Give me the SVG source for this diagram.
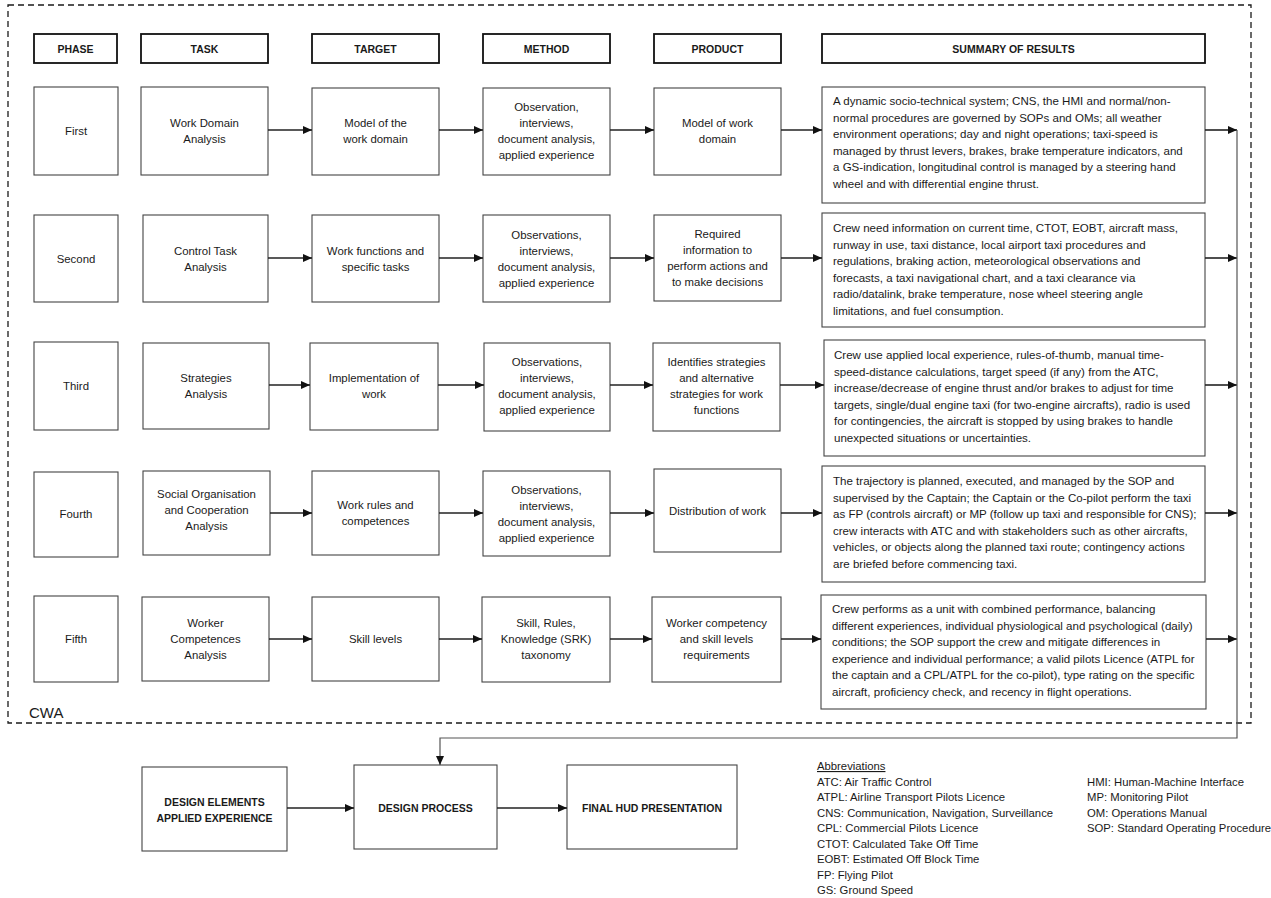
<svg xmlns="http://www.w3.org/2000/svg" width="1271" height="898" viewBox="0 0 1271 898">
<style>
.bg{fill:#fff}
.frame{fill:none;stroke:#1a1a1a;stroke-width:1.3;stroke-dasharray:6 4}
.hdr{fill:#fff;stroke:#111;stroke-width:1.8}
.box{fill:#fff;stroke:#444;stroke-width:1.1}
.ht{font-family:"Liberation Sans",Arial,sans-serif;font-size:10.5px;font-weight:bold;fill:#1a1a1a;text-anchor:middle}
.t{font-family:"Liberation Sans",Arial,sans-serif;font-size:11.4px;fill:#1a1a1a;text-anchor:middle}
.s{font-family:"Liberation Sans",Arial,sans-serif;font-size:11.55px;fill:#1a1a1a}
.bt{font-family:"Liberation Sans",Arial,sans-serif;font-size:10.5px;font-weight:bold;fill:#1a1a1a;text-anchor:middle}
.ab{font-family:"Liberation Sans",Arial,sans-serif;font-size:11.3px;fill:#1a1a1a}
.cwa{font-family:"Liberation Sans",Arial,sans-serif;font-size:15px;fill:#1a1a1a}
.c{fill:none;stroke:#222;stroke-width:1.6}
.fb{fill:none;stroke:#555;stroke-width:1.2}
</style>
<defs>
<marker id="ah" markerUnits="userSpaceOnUse" markerWidth="10" markerHeight="10" refX="9" refY="5" orient="auto">
<path d="M0,1 L9,5 L0,9 z" fill="#111"/>
</marker>
</defs>
<rect class="bg" x="0" y="0" width="1271" height="898"/>
<rect class="frame" x="8" y="5" width="1243" height="718"/>
<text class="cwa" x="29" y="718">CWA</text>

<g id="headers">
<g id="h-phase"><rect class="hdr" x="34" y="34" width="83" height="29"/><text class="ht" x="75.5" y="52.5">PHASE</text></g>
<g id="h-task"><rect class="hdr" x="141" y="34" width="127" height="29"/><text class="ht" x="204.5" y="52.5">TASK</text></g>
<g id="h-target"><rect class="hdr" x="312" y="34" width="127" height="29"/><text class="ht" x="375.5" y="52.5">TARGET</text></g>
<g id="h-method"><rect class="hdr" x="483" y="34" width="127" height="29"/><text class="ht" x="546.5" y="52.5">METHOD</text></g>
<g id="h-product"><rect class="hdr" x="654" y="34" width="127" height="29"/><text class="ht" x="717.5" y="52.5">PRODUCT</text></g>
<g id="h-summary"><rect class="hdr" x="822" y="34" width="383" height="29"/><text class="ht" x="1013.5" y="52.5">SUMMARY OF RESULTS</text></g>
</g>

<!-- Row 1 -->
<g id="p1"><rect class="box" x="34" y="87" width="84" height="88"/><text class="t" x="76" y="135">First</text></g>
<g id="task1"><rect class="box" x="141" y="87" width="127" height="88"/><text class="t" x="204.5" y="127">Work Domain</text><text class="t" x="204.5" y="143">Analysis</text></g>
<g id="target1"><rect class="box" x="312" y="88" width="127" height="87"/><text class="t" x="375.5" y="127">Model of the</text><text class="t" x="375.5" y="143">work domain</text></g>
<g id="method1"><rect class="box" x="483" y="88" width="127" height="87"/><text class="t" x="546.5" y="111">Observation,</text><text class="t" x="546.5" y="127">interviews,</text><text class="t" x="546.5" y="143">document analysis,</text><text class="t" x="546.5" y="159">applied experience</text></g>
<g id="product1"><rect class="box" x="654" y="88" width="127" height="87"/><text class="t" x="717.5" y="127">Model of work</text><text class="t" x="717.5" y="143">domain</text></g>
<g id="summary1"><rect class="box" x="822" y="87" width="383" height="116"/>
<text class="s" x="833" y="105">A dynamic socio-technical system; CNS, the HMI and normal/non-</text>
<text class="s" x="833" y="121.6">normal procedures are governed by SOPs and OMs; all weather</text>
<text class="s" x="833" y="138.2">environment operations; day and night operations; taxi-speed is</text>
<text class="s" x="833" y="154.8">managed by thrust levers, brakes, brake temperature indicators, and</text>
<text class="s" x="833" y="171.4">a GS-indication, longitudinal control is managed by a steering hand</text>
<text class="s" x="833" y="188">wheel and with differential engine thrust.</text></g>

<!-- Row 2 -->
<g id="p2"><rect class="box" x="34" y="215" width="84" height="87"/><text class="t" x="76" y="262.5">Second</text></g>
<g id="task2"><rect class="box" x="143" y="215" width="125" height="87"/><text class="t" x="205.5" y="254.5">Control Task</text><text class="t" x="205.5" y="270.5">Analysis</text></g>
<g id="target2"><rect class="box" x="312" y="215" width="127" height="87"/><text class="t" x="375.5" y="254.5">Work functions and</text><text class="t" x="375.5" y="270.5">specific tasks</text></g>
<g id="method2"><rect class="box" x="483" y="215" width="127" height="87"/><text class="t" x="546.5" y="238.5">Observations,</text><text class="t" x="546.5" y="254.5">interviews,</text><text class="t" x="546.5" y="270.5">document analysis,</text><text class="t" x="546.5" y="286.5">applied experience</text></g>
<g id="product2"><rect class="box" x="654" y="215" width="127" height="86"/><text class="t" x="717.5" y="238">Required</text><text class="t" x="717.5" y="254">information to</text><text class="t" x="717.5" y="270">perform actions and</text><text class="t" x="717.5" y="286">to make decisions</text></g>
<g id="summary2"><rect class="box" x="822" y="213" width="383" height="114"/>
<text class="s" x="833" y="232">Crew need information on current time, CTOT, EOBT, aircraft mass,</text>
<text class="s" x="833" y="248.6">runway in use, taxi distance, local airport taxi procedures and</text>
<text class="s" x="833" y="265.2">regulations, braking action, meteorological observations and</text>
<text class="s" x="833" y="281.8">forecasts, a taxi navigational chart, and a taxi clearance via</text>
<text class="s" x="833" y="298.4">radio/datalink, brake temperature, nose wheel steering angle</text>
<text class="s" x="833" y="315">limitations, and fuel consumption.</text></g>

<!-- Row 3 -->
<g id="p3"><rect class="box" x="34" y="342" width="84" height="88"/><text class="t" x="76" y="390">Third</text></g>
<g id="task3"><rect class="box" x="143" y="343" width="126" height="86"/><text class="t" x="206" y="382">Strategies</text><text class="t" x="206" y="398">Analysis</text></g>
<g id="target3"><rect class="box" x="310" y="343" width="128" height="87"/><text class="t" x="374" y="382">Implementation of</text><text class="t" x="374" y="398">work</text></g>
<g id="method3"><rect class="box" x="484" y="343" width="126" height="88"/><text class="t" x="547" y="366">Observations,</text><text class="t" x="547" y="382">interviews,</text><text class="t" x="547" y="398">document analysis,</text><text class="t" x="547" y="414">applied experience</text></g>
<g id="product3"><rect class="box" x="653" y="343" width="127" height="88"/><text class="t" x="716.5" y="366">Identifies strategies</text><text class="t" x="716.5" y="382">and alternative</text><text class="t" x="716.5" y="398">strategies for work</text><text class="t" x="716.5" y="414">functions</text></g>
<g id="summary3"><rect class="box" x="824" y="340" width="381" height="116"/>
<text class="s" x="834" y="359">Crew use applied local experience, rules-of-thumb, manual time-</text>
<text class="s" x="834" y="375.6">speed-distance calculations, target speed (if any) from the ATC,</text>
<text class="s" x="834" y="392.2">increase/decrease of engine thrust and/or brakes to adjust for time</text>
<text class="s" x="834" y="408.8">targets, single/dual engine taxi (for two-engine aircrafts), radio is used</text>
<text class="s" x="834" y="425.4">for contingencies, the aircraft is stopped by using brakes to handle</text>
<text class="s" x="834" y="442">unexpected situations or uncertainties.</text></g>

<!-- Row 4 -->
<g id="p4"><rect class="box" x="34" y="472" width="84" height="85"/><text class="t" x="76" y="518">Fourth</text></g>
<g id="task4"><rect class="box" x="143" y="471" width="127" height="84"/><text class="t" x="206.5" y="498">Social Organisation</text><text class="t" x="206.5" y="514">and Cooperation</text><text class="t" x="206.5" y="530">Analysis</text></g>
<g id="target4"><rect class="box" x="312" y="471" width="127" height="84"/><text class="t" x="375.5" y="509">Work rules and</text><text class="t" x="375.5" y="525">competences</text></g>
<g id="method4"><rect class="box" x="483" y="471" width="127" height="85"/><text class="t" x="546.5" y="494">Observations,</text><text class="t" x="546.5" y="510">interviews,</text><text class="t" x="546.5" y="526">document analysis,</text><text class="t" x="546.5" y="542">applied experience</text></g>
<g id="product4"><rect class="box" x="654" y="469" width="127" height="83"/><text class="t" x="717.5" y="515">Distribution of work</text></g>
<g id="summary4"><rect class="box" x="822" y="466" width="383" height="116"/>
<text class="s" x="833" y="485">The trajectory is planned, executed, and managed by the SOP and</text>
<text class="s" x="833" y="501.6">supervised by the Captain; the Captain or the Co-pilot perform the taxi</text>
<text class="s" x="833" y="518.2">as FP (controls aircraft) or MP (follow up taxi and responsible for CNS);</text>
<text class="s" x="833" y="534.8">crew interacts with ATC and with stakeholders such as other aircrafts,</text>
<text class="s" x="833" y="551.4">vehicles, or objects along the planned taxi route; contingency actions</text>
<text class="s" x="833" y="568">are briefed before commencing taxi.</text></g>

<!-- Row 5 -->
<g id="p5"><rect class="box" x="34" y="596" width="84" height="86"/><text class="t" x="76" y="643">Fifth</text></g>
<g id="task5"><rect class="box" x="142" y="597" width="127" height="84"/><text class="t" x="205.5" y="627">Worker</text><text class="t" x="205.5" y="643">Competences</text><text class="t" x="205.5" y="659">Analysis</text></g>
<g id="target5"><rect class="box" x="312" y="597" width="127" height="84"/><text class="t" x="375.5" y="643">Skill levels</text></g>
<g id="method5"><rect class="box" x="482" y="597" width="128" height="85"/><text class="t" x="546" y="627">Skill, Rules,</text><text class="t" x="546" y="643">Knowledge (SRK)</text><text class="t" x="546" y="659">taxonomy</text></g>
<g id="product5"><rect class="box" x="652" y="597" width="129" height="85"/><text class="t" x="716.5" y="627">Worker competency</text><text class="t" x="716.5" y="643">and skill levels</text><text class="t" x="716.5" y="659">requirements</text></g>
<g id="summary5"><rect class="box" x="821" y="595" width="385" height="114"/>
<text class="s" x="832" y="613">Crew performs as a unit with combined performance, balancing</text>
<text class="s" x="832" y="629.6">different experiences, individual physiological and psychological (daily)</text>
<text class="s" x="832" y="646.2">conditions; the SOP support the crew and mitigate differences in</text>
<text class="s" x="832" y="662.8">experience and individual performance; a valid pilots Licence (ATPL for</text>
<text class="s" x="832" y="679.4">the captain and a CPL/ATPL for the co-pilot), type rating on the specific</text>
<text class="s" x="832" y="696">aircraft, proficiency check, and recency in flight operations.</text></g>

<!-- Bottom -->
<g id="design-elements"><rect class="box" x="142" y="767" width="145" height="84"/><text class="bt" x="214.5" y="806">DESIGN ELEMENTS</text><text class="bt" x="214.5" y="822">APPLIED EXPERIENCE</text></g>
<g id="design-process"><rect class="box" x="354" y="765" width="143" height="84"/><text class="bt" x="425.5" y="812">DESIGN PROCESS</text></g>
<g id="final-hud"><rect class="box" x="567" y="765" width="170" height="84"/><text class="bt" x="652" y="812">FINAL HUD PRESENTATION</text></g>

<g id="abbreviations">
<text class="ab" x="817" y="770" text-decoration="underline">Abbreviations</text>
<text class="ab" x="817" y="785.5">ATC: Air Traffic Control</text>
<text class="ab" x="817" y="801">ATPL: Airline Transport Pilots Licence</text>
<text class="ab" x="817" y="816.5">CNS: Communication, Navigation, Surveillance</text>
<text class="ab" x="817" y="832">CPL: Commercial Pilots Licence</text>
<text class="ab" x="817" y="847.5">CTOT: Calculated Take Off Time</text>
<text class="ab" x="817" y="863">EOBT: Estimated Off Block Time</text>
<text class="ab" x="817" y="878.5">FP: Flying Pilot</text>
<text class="ab" x="817" y="894">GS: Ground Speed</text>
<text class="ab" x="1087" y="785.5">HMI: Human-Machine Interface</text>
<text class="ab" x="1087" y="801">MP: Monitoring Pilot</text>
<text class="ab" x="1087" y="816.5">OM: Operations Manual</text>
<text class="ab" x="1087" y="832">SOP: Standard Operating Procedure</text>
</g>

<g id="connectors">
<path class="c" d="M268,130 H312" marker-end="url(#ah)"/>
<path class="c" d="M439,130 H483" marker-end="url(#ah)"/>
<path class="c" d="M610,130 H654" marker-end="url(#ah)"/>
<path class="c" d="M781,130 H822" marker-end="url(#ah)"/>
<path class="c" d="M1205,130 H1237" marker-end="url(#ah)"/>

<path class="c" d="M268,258 H312" marker-end="url(#ah)"/>
<path class="c" d="M439,258 H483" marker-end="url(#ah)"/>
<path class="c" d="M610,258 H654" marker-end="url(#ah)"/>
<path class="c" d="M781,258 H822" marker-end="url(#ah)"/>
<path class="c" d="M1205,258 H1237" marker-end="url(#ah)"/>

<path class="c" d="M269,385 H310" marker-end="url(#ah)"/>
<path class="c" d="M438,385 H484" marker-end="url(#ah)"/>
<path class="c" d="M610,385 H653" marker-end="url(#ah)"/>
<path class="c" d="M780,385 H824" marker-end="url(#ah)"/>
<path class="c" d="M1205,385 H1237" marker-end="url(#ah)"/>

<path class="c" d="M270,513 H312" marker-end="url(#ah)"/>
<path class="c" d="M439,513 H483" marker-end="url(#ah)"/>
<path class="c" d="M610,513 H654" marker-end="url(#ah)"/>
<path class="c" d="M781,513 H822" marker-end="url(#ah)"/>
<path class="c" d="M1205,513 H1237" marker-end="url(#ah)"/>

<path class="c" d="M269,639 H312" marker-end="url(#ah)"/>
<path class="c" d="M439,639 H482" marker-end="url(#ah)"/>
<path class="c" d="M610,639 H652" marker-end="url(#ah)"/>
<path class="c" d="M781,639 H821" marker-end="url(#ah)"/>
<path class="c" d="M1206,639 H1237" marker-end="url(#ah)"/>

<path class="fb" d="M1237,130 V738 H440 V765" marker-end="url(#ah)"/>
<path class="c" d="M287,808 H354" marker-end="url(#ah)"/>
<path class="c" d="M497,808 H567" marker-end="url(#ah)"/>
</g>
</svg>
